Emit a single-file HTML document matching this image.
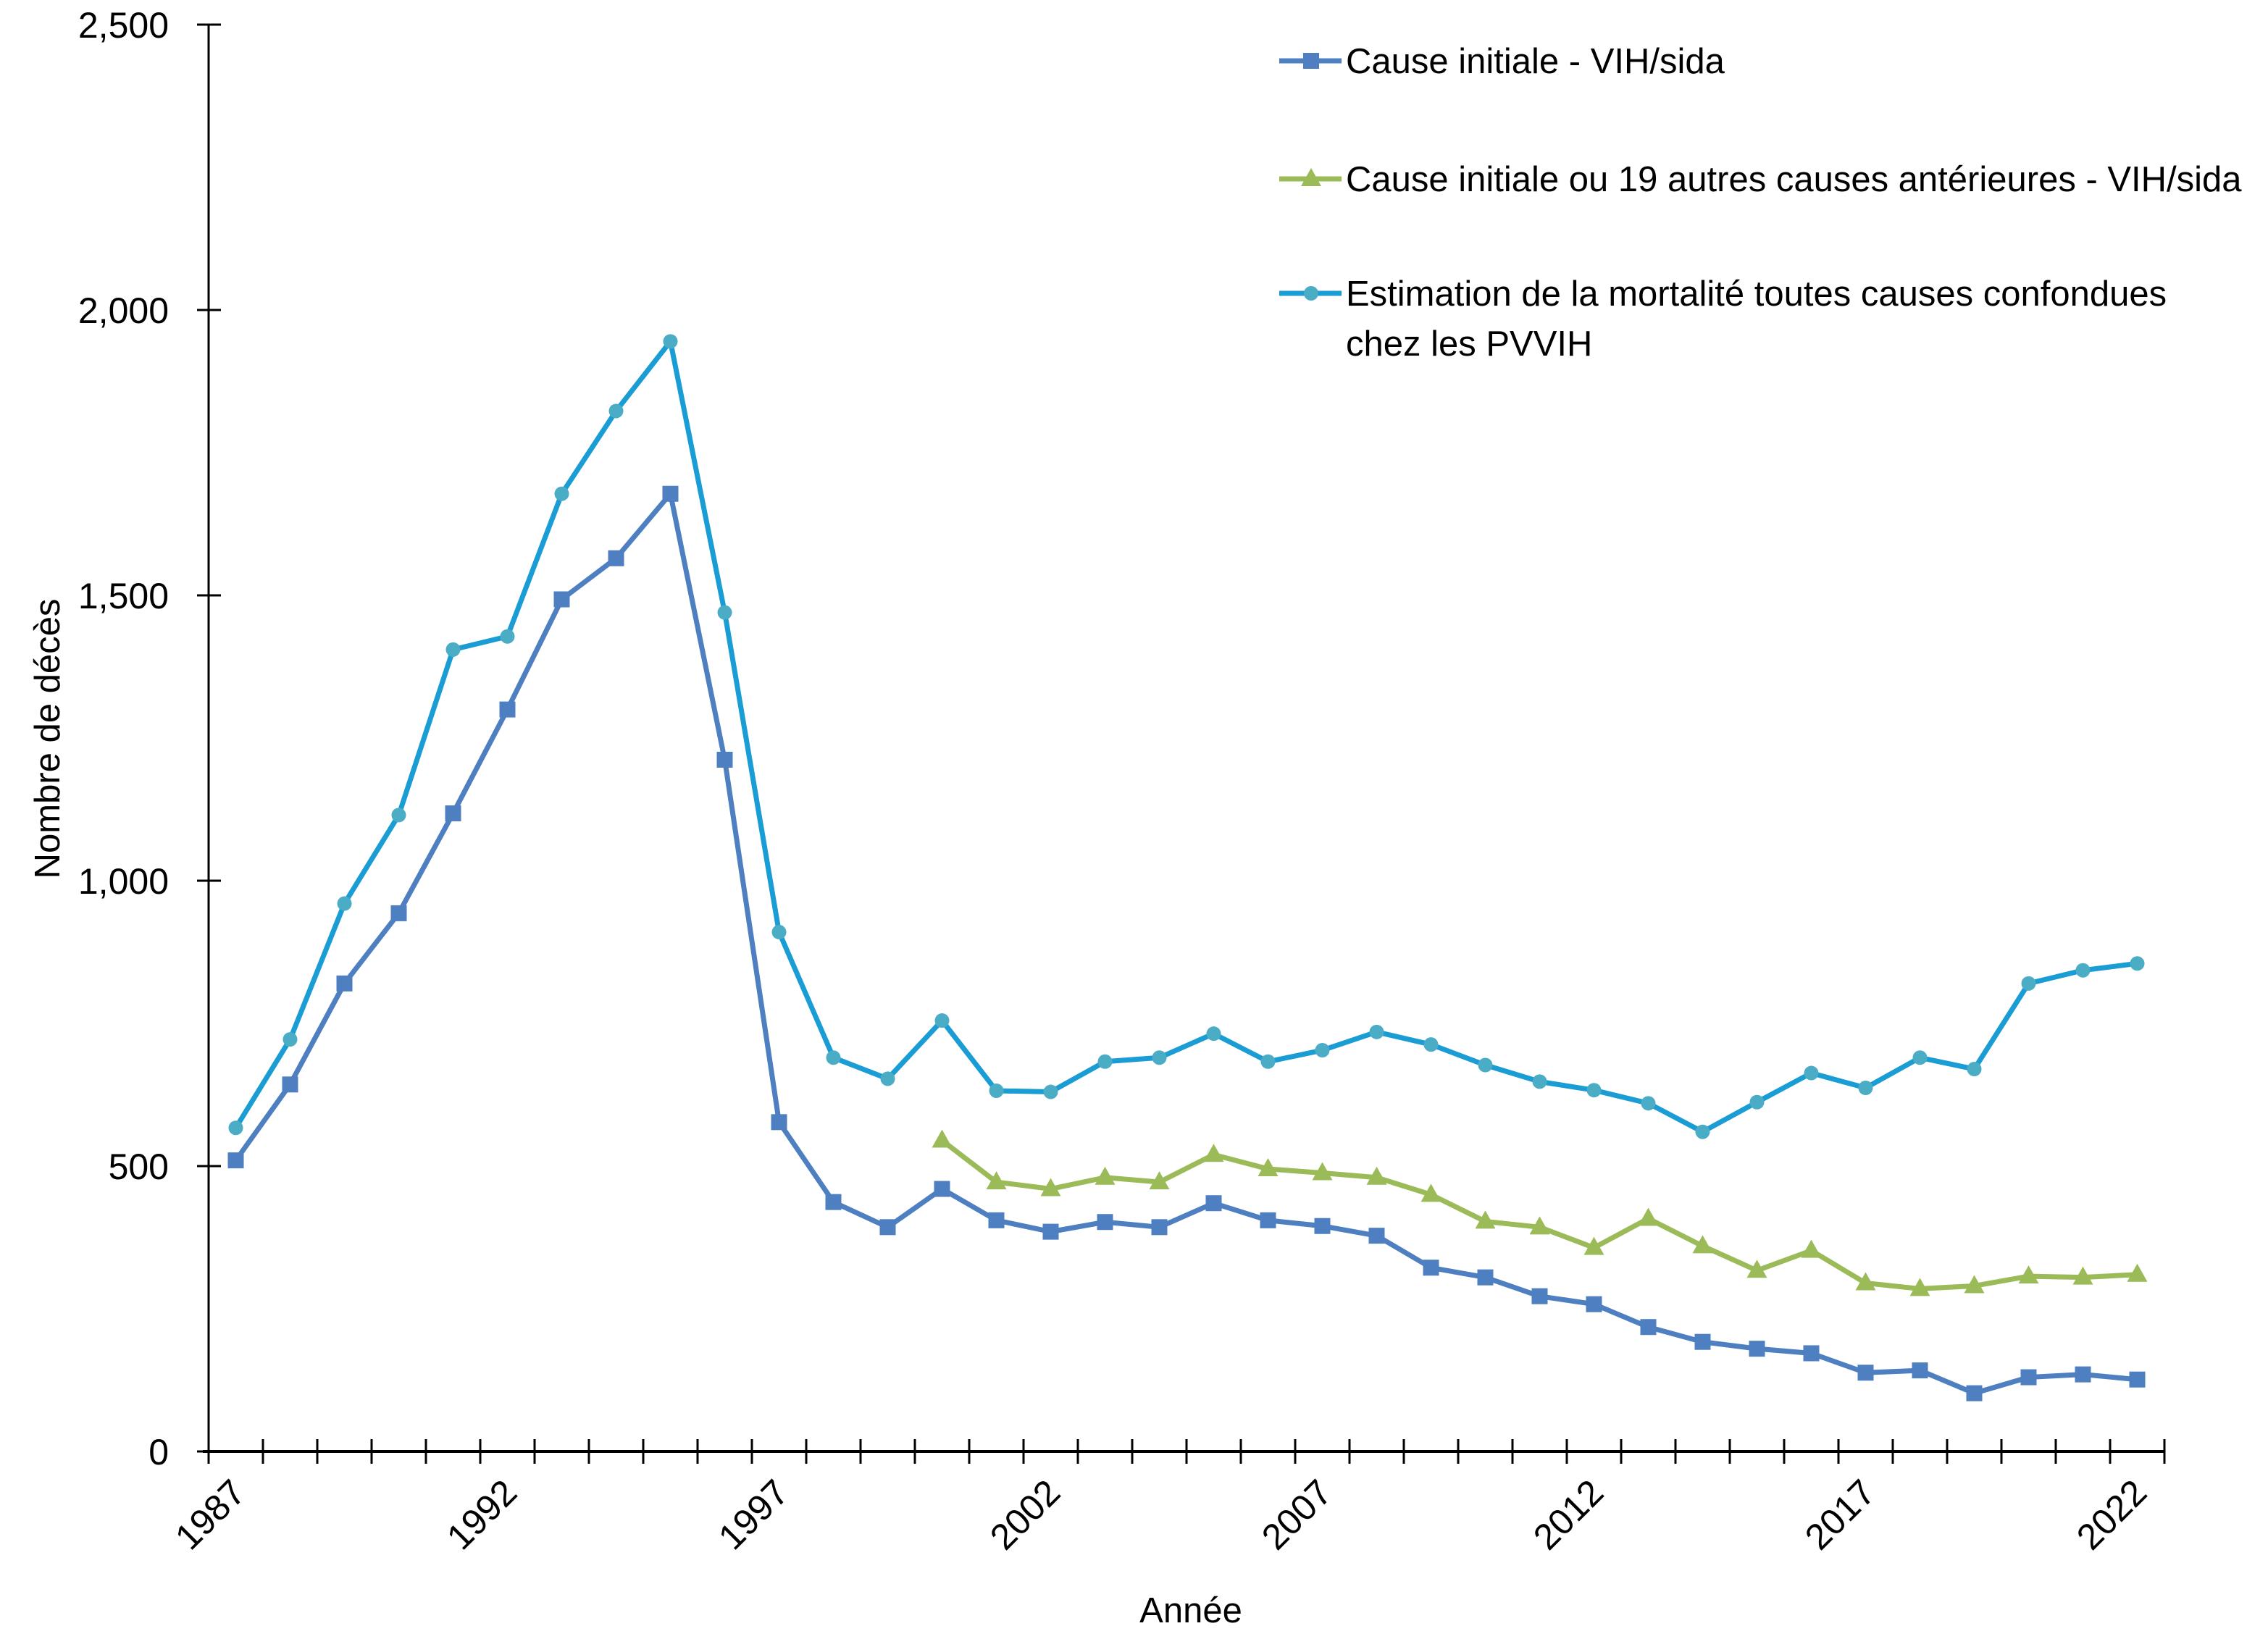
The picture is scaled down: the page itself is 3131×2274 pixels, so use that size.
<!DOCTYPE html>
<html><head><meta charset="utf-8"><style>
html,body{margin:0;padding:0;background:#fff;}
svg{display:block;font-family:"Liberation Sans",sans-serif;}
</style></head><body>
<svg id="chart" width="3131" height="2274" viewBox="0 0 3131 2274" xmlns="http://www.w3.org/2000/svg">
<g id="axes"></g>
<g id="series"></g>
<g id="legend">
  <g>
    <line x1="1766" y1="84" x2="1852" y2="84" stroke="#4E7FC0" stroke-width="7"/>
    <rect x="1799" y="73" width="22" height="22" fill="#4E7FC0"/>
    <text x="1858" y="101" font-size="49">Cause initiale - VIH/sida</text>
  </g>
  <g>
    <line x1="1766" y1="247" x2="1852" y2="247" stroke="#9BBB59" stroke-width="7"/>
    <polygon points="1810,232 1824,257 1796,257" fill="#9BBB59"/>
    <text x="1858" y="264" font-size="49">Cause initiale ou 19 autres causes antérieures - VIH/sida</text>
  </g>
  <g>
    <line x1="1766" y1="405" x2="1852" y2="405" stroke="#1A9CD4" stroke-width="7"/>
    <circle cx="1810" cy="405" r="10" fill="#4BACC6"/>
    <text x="1858" y="422" font-size="49">Estimation de la mortalité toutes causes confondues</text>
    <text x="1858" y="491" font-size="49">chez les PVVIH</text>
  </g>
</g>
<text transform="translate(82,1020) rotate(-90)" text-anchor="middle" font-size="49">Nombre de décès</text>
<text x="1644" y="2240" text-anchor="middle" font-size="49">Année</text>
</svg>
<script>
const years = [];
for (let y = 1987; y <= 2022; y++) years.push(y);
const yTicks = [0, 500, 1000, 1500, 2000, 2500];
const yTickLabels = ["0", "500", "1,000", "1,500", "2,000", "2,500"];
const xLabelYears = [1987, 1992, 1997, 2002, 2007, 2012, 2017, 2022];
const causeInitiale = [510,643,820,943,1118,1300,1493,1565,1678,1212,577,437,393,460,405,385,402,393,435,405,395,378,322,305,272,258,218,192,180,172,138,142,102,130,135,126];
const greenYears = [2000,2001,2002,2003,2004,2005,2006,2007,2008,2009,2010,2011,2012,2013,2014,2015,2016,2017,2018,2019,2020,2021,2022];
const cause19 = [545,472,460,480,472,520,495,488,480,450,403,393,357,408,360,317,352,295,285,290,307,305,310];
const estimation = [567,722,960,1115,1405,1428,1678,1823,1945,1470,910,690,653,755,632,630,683,690,732,683,703,735,713,677,648,633,610,560,612,663,637,690,670,820,843,855];

const NS = "http://www.w3.org/2000/svg";
const X0 = 288, STEP = 75, Y0 = 2004, YTOP = 34, YMAX = 2500;
const xPos = yr => X0 + STEP * (yr - 1987 + 0.5);
const yPos = v => Y0 - (v / YMAX) * (Y0 - YTOP);
function mk(tag, attrs, parent) {
  const e = document.createElementNS(NS, tag);
  for (const k in attrs) e.setAttribute(k, attrs[k]);
  parent.appendChild(e);
  return e;
}
const axes = document.getElementById('axes');
const yl = mk('line', {x1: X0, y1: YTOP, x2: X0, y2: Y0, stroke: '#000', 'stroke-width': 3}, axes);


const xl = mk('line', {x1: X0 - 8, y1: Y0, x2: X0 + STEP * years.length, y2: Y0, stroke: '#000', 'stroke-width': 4}, axes);


yTicks.forEach((t, i) => {
  const y = yPos(t);
  mk('line', {x1: X0 - 16, y1: y, x2: X0 + 17, y2: y, stroke: '#000', 'stroke-width': 3}, axes);
  const tx = mk('text', {x: X0 - 55, y: y + 18, 'text-anchor': 'end', 'font-size': 50}, axes);
  tx.textContent = yTickLabels[i];
  
  
});
for (let i = 0; i <= years.length; i++) {
  const x = X0 + STEP * i;
  mk('line', {x1: x, y1: Y0 - 17, x2: x, y2: Y0 + 17, stroke: '#000', 'stroke-width': 3}, axes);
}
xLabelYears.forEach(yr => {
  const x = xPos(yr);
  const tx = mk('text', {transform: `translate(${x + 16},${Y0 + 60}) rotate(-45)`, 'text-anchor': 'end', 'font-size': 50}, axes);
  tx.textContent = String(yr);
  
  
});
const series = document.getElementById('series');
function drawLine(xs, vs, color, name) {
  const pts = xs.map((yr, i) => xPos(yr) + ',' + yPos(vs[i])).join(' ');
  const pl = mk('polyline', {points: pts, fill: 'none', stroke: color, 'stroke-width': 7, 'stroke-linejoin': 'round'}, series);
  
  
}
drawLine(years, estimation, '#1A9CD4', 'estimation');
drawLine(greenYears, cause19, '#9BBB59', 'cause-19');
drawLine(years, causeInitiale, '#4E7FC0', 'cause-initiale');
estimation.forEach((v, i) => {
  const c = mk('circle', {cx: xPos(years[i]), cy: yPos(v), r: 10, fill: '#4BACC6'}, series);
  
  
});
cause19.forEach((v, i) => {
  const x = xPos(greenYears[i]), y = yPos(v);
  const p = mk('polygon', {points: `${x},${y - 15} ${x + 14},${y + 10} ${x - 14},${y + 10}`, fill: '#9BBB59'}, series);
  
  
});
causeInitiale.forEach((v, i) => {
  const r = mk('rect', {x: xPos(years[i]) - 11, y: yPos(v) - 11, width: 22, height: 22, fill: '#4E7FC0'}, series);
  
  
});
</script>
</body></html>
